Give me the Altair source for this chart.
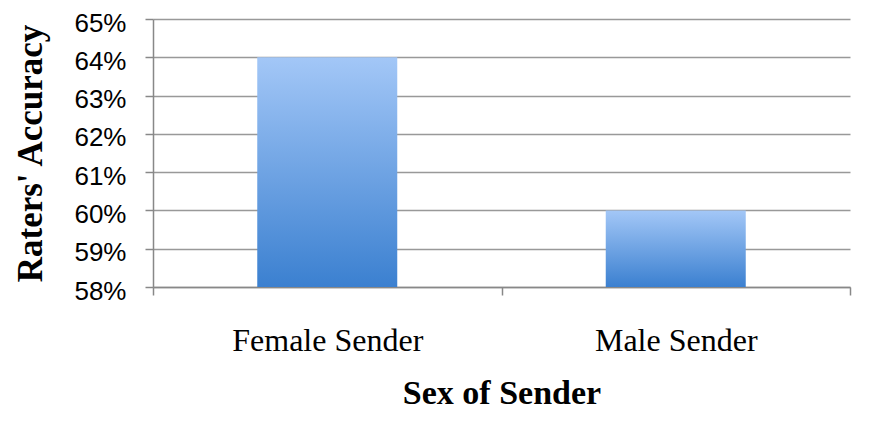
import altair as alt
import pandas as pd

categories = ["Female Sender", "Male Sender"]
accuracy = [0.64, 0.60]
y_ticks = [0.58, 0.59, 0.60, 0.61, 0.62, 0.63, 0.64, 0.65]

df = pd.DataFrame({"sender": categories, "accuracy": accuracy})

gradient = alt.LinearGradient(
    gradient="linear",
    stops=[alt.GradientStop(color="#a3c7f7", offset=0),
           alt.GradientStop(color="#3b80d0", offset=1)],
    x1=0, x2=0, y1=0, y2=1,
)

chart = alt.Chart(df).mark_bar(color=gradient, size=140).encode(
    x=alt.X(
        "sender:N", sort=categories,
        scale=alt.Scale(paddingInner=0, paddingOuter=0),
        axis=alt.Axis(
            title="Sex of Sender", labelAngle=0, tickBand="extent", labelLimit=400,
            labelFont="Liberation Serif", labelFontSize=32, labelColor="black",
            labelPadding=30, tickSize=8, tickColor="#888", tickWidth=1.5,
            domainColor="#888", domainWidth=1.5,
            titleFont="Liberation Serif", titleFontSize=34, titleFontWeight="bold",
            titleColor="black", titlePadding=20, grid=False,
        ),
    ),
    y=alt.Y(
        "accuracy:Q",
        scale=alt.Scale(domain=[0.58, 0.65], zero=False, nice=False),
        axis=alt.Axis(
            title="Raters' Accuracy", values=y_ticks, format=".0%",
            labelFont="Liberation Sans", labelFontSize=26, labelColor="black",
            labelPadding=19, labelOffset=4, tickSize=8, tickColor="#888", tickWidth=1.5,
            domainColor="#888", domainWidth=1.5,
            gridColor="#999", gridWidth=1.5,
            titleFont="Liberation Serif", titleFontSize=35, titleFontWeight="bold",
            titleColor="black", titlePadding=25,
        ),
    ),
    y2=alt.datum(0.58),
).properties(
    width=697, height=268,
    autosize=alt.AutoSizeParams(type="none"),
    padding={"left": 145, "top": 11, "right": 30, "bottom": 122},
).configure_view(stroke=None)

chart.save("out.html", embed_options={"renderer": "svg", "actions": False})
